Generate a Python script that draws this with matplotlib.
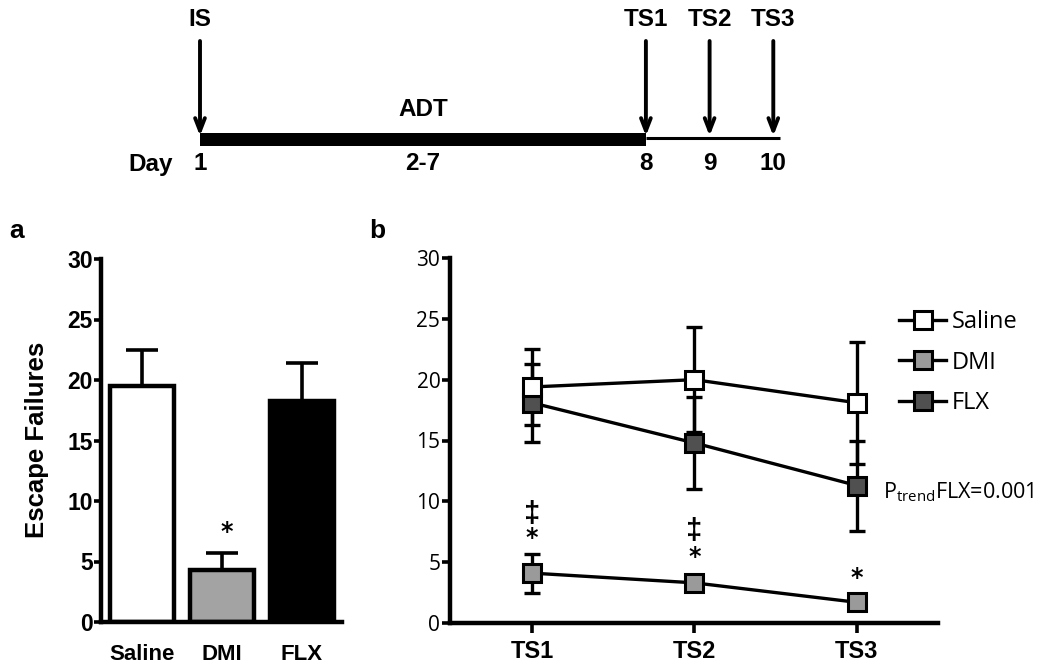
import matplotlib
matplotlib.use('Agg')
import matplotlib.pyplot as plt
from matplotlib.lines import Line2D

W, H = 1050, 671

# ---------------- data ----------------
# timeline
event_labels = ['IS', 'TS1', 'TS2', 'TS3']
event_days = [1, 8, 9, 10]
day_tick_labels = ['1', '2-7', '8', '9', '10']
day_tick_pos = [1, 4.5, 8, 9, 10]
adt_start, adt_end, last_day = 1, 8, 10

# panel a
groups = ['Saline', 'DMI', 'FLX']
bar_means = [19.5, 4.3, 18.3]
bar_sem = [3.0, 1.4, 3.1]
bar_colors = ['white', '#a3a3a3', 'black']

# panel b
sessions = ['TS1', 'TS2', 'TS3']
saline_mean = [19.4, 20.0, 18.1]
saline_err = [3.1, 4.3, 5.0]
dmi_mean = [4.1, 3.3, 1.7]
dmi_err = [1.6, 0.6, 0.4]
flx_mean = [18.1, 14.8, 11.3]
flx_err = [3.2, 3.8, 3.7]
dagger_y = [9.0, 7.6, None]
star_y = [7.0, 5.4, 3.7]

yticks = [0, 5, 10, 15, 20, 25, 30]

BOLD = ['Liberation Sans', 'DejaVu Sans']
NARROW = ['Liberation Sans Narrow', 'Liberation Sans', 'DejaVu Sans']
REG = ['Open Sans', 'DejaVu Sans']

plt.rcParams['mathtext.fontset'] = 'custom'
plt.rcParams['mathtext.rm'] = 'Open Sans'

fig = plt.figure(figsize=(W / 100, H / 100), dpi=100)


def fx(px):
    return px / W


def fy(py):
    return 1 - py / H


# ---------------- timeline ----------------
axt = fig.add_axes([0, fy(200), 1, 200 / H])
px_per_day = 63.7
axt.set_xlim(1 - 200 / px_per_day, 1 + 850 / px_per_day)
axt.set_ylim(200, 0)
axt.axis('off')
axt.fill_between([adt_start, adt_end], 133, 146, color='black', lw=0)
axt.plot([adt_end, last_day + 0.1], [137.5, 137.5], color='black', lw=2.2,
         solid_capstyle='butt')
for lab, d in zip(event_labels, event_days):
    axt.annotate('', xy=(d, 136), xytext=(d, 41),
                 arrowprops=dict(arrowstyle='->,head_length=0.9,head_width=0.35',
                                 lw=2.8, color='black', shrinkA=0, shrinkB=0))
    axt.text(d, 20, lab, ha='center', va='center', fontsize=17.5,
             fontweight='bold', family=BOLD)
for lab, d in zip(day_tick_labels, day_tick_pos):
    axt.text(d, 164, lab, ha='center', va='center', fontsize=17.5,
             fontweight='bold', family=BOLD)
axt.text(1 - 27 / px_per_day, 164, 'Day', ha='right', va='center',
         fontsize=17.5, fontweight='bold', family=BOLD)
axt.text(4.5, 110, 'ADT', ha='center', va='center', fontsize=17.5,
         fontweight='bold', family=BOLD)

# ---------------- panel a ----------------
a_left, a_right, a_bot, a_top = 101, 342, 622, 259
axa = fig.add_axes([fx(a_left), fy(a_bot), (a_right - a_left) / W,
                    (a_bot - a_top) / H])
xa = list(range(len(groups)))
axa.bar(xa, bar_means, width=0.8, color=bar_colors, edgecolor='black',
        linewidth=3.2, zorder=2)
axa.errorbar(xa, bar_means, yerr=[[0] * 3, bar_sem], fmt='none',
             ecolor='black', elinewidth=2.6, capsize=11.5, capthick=2.6,
             zorder=1)
axa.set_xlim(-0.51, 2.5)
axa.set_ylim(0, 30)
axa.set_yticks(yticks)
axa.set_yticklabels([str(t) for t in yticks], fontsize=16.5, fontweight='bold',
                    family=BOLD)
axa.set_xticks(xa)
axa.set_xticklabels(groups, fontsize=16, fontweight='bold', family=NARROW)
axa.tick_params(axis='x', length=0, pad=16)
axa.tick_params(axis='y', length=5, width=2.6, pad=1)
for s in ['top', 'right']:
    axa.spines[s].set_visible(False)
for s in ['left', 'bottom']:
    axa.spines[s].set_linewidth(3.2)
axa.text(1.06, 7.4, '*', ha='center', va='center', fontsize=17,
         fontweight='bold', family=['DejaVu Sans'])
fig.text(fx(37), fy(440), 'Escape Failures', rotation=90, ha='center',
         va='center', fontsize=18.5, fontweight='bold', family=BOLD)
fig.text(fx(17), fy(231), 'a', ha='center', va='center', fontsize=19,
         fontweight='bold', family=BOLD)

# ---------------- panel b ----------------
b_left, b_right, b_bot, b_top = 450, 938, 623, 258
axb = fig.add_axes([fx(b_left), fy(b_bot), (b_right - b_left) / W,
                    (b_bot - b_top) / H])
xb = list(range(len(sessions)))
series = [
    ('Saline', saline_mean, saline_err, 'white'),
    ('DMI', dmi_mean, dmi_err, '#9a9a9a'),
    ('FLX', flx_mean, flx_err, '#505050'),
]
handles = []
for z, (name, m, e, fc) in enumerate(series):
    axb.errorbar(xb, m, yerr=e, fmt='none', ecolor='black', elinewidth=2.4,
                 capsize=5.5, capthick=2.4, zorder=2 + z)
for z, (name, m, e, fc) in enumerate(series):
    axb.plot(xb, m, color='black', lw=2.4, zorder=5)
for z, (name, m, e, fc) in enumerate(series):
    axb.plot(xb, m, ls='none', marker='s', markersize=13, markerfacecolor=fc,
             markeredgecolor='black', markeredgewidth=2.2, zorder=8 - z)
    handles.append(Line2D([], [], color='black', lw=2.4, marker='s',
                          markersize=13, markerfacecolor=fc,
                          markeredgecolor='black', markeredgewidth=2.2,
                          label=name))
axb.set_xlim(-0.505, 2.5)
axb.set_ylim(0, 30)
axb.set_yticks(yticks)
axb.set_yticklabels([str(t) for t in yticks], fontsize=15, family=REG)
axb.set_xticks(xb)
axb.set_xticklabels(sessions, fontsize=17, fontweight='bold', family=NARROW)
axb.tick_params(axis='x', length=7, width=2.6, pad=5)
axb.tick_params(axis='y', length=6, width=2.6, pad=1)
for s in ['top', 'right']:
    axb.spines[s].set_visible(False)
for s in ['left', 'bottom']:
    axb.spines[s].set_linewidth(3.2)
for i in xb:
    if dagger_y[i] is not None:
        axb.text(i, dagger_y[i], '\u2021', ha='center', va='center',
                 fontsize=21, fontweight='bold', family=BOLD)
    axb.text(i, star_y[i], '*', ha='center', va='center', fontsize=17,
             fontweight='bold', family=['DejaVu Sans'])

leg = fig.legend(handles=handles, loc='upper left',
                 bbox_to_anchor=(fx(899), fy(310)), frameon=False,
                 prop={'family': REG, 'size': 17}, handlelength=2.0,
                 handletextpad=0.25, labelspacing=0.7, borderpad=0,
                 borderaxespad=0)
fig.text(fx(883), fy(492), r'P$_{\mathregular{trend}}$FLX=0.001', ha='left',
         va='center', fontsize=15.5, family=REG)
fig.text(fx(377), fy(231), 'b', ha='center', va='center', fontsize=19,
         fontweight='bold', family=BOLD)

fig.savefig('out.png', dpi=100)
